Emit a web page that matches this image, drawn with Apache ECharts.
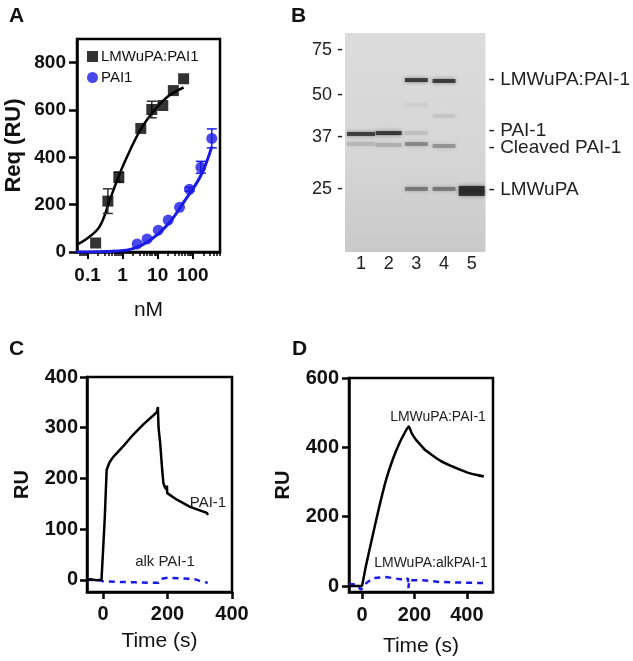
<!DOCTYPE html>
<html><head><meta charset="utf-8">
<script src="https://cdn.jsdelivr.net/npm/echarts@6/dist/echarts.min.js"></script>
<style>html,body{margin:0;padding:0;background:#fff}#c{width:633px;height:661px}</style>
</head><body><div id="c"></div>
<script>
// ---------- Panel A (binding isotherms) ----------
const complexConc = [0.17, 0.38, 0.78, 3.3, 6.8, 14, 28, 55];
const complexReq  = [38, 215, 316, 522, 602, 619, 682, 732];
const complexErr  = [0, 52, 22, 0, 35, 0, 0, 0];
const pai1Conc = [2.6, 5, 10.4, 20, 42, 81, 170, 350];
const pai1Req  = [34, 55, 92, 135, 189, 265, 358, 480];
const pai1Err  = [0, 0, 0, 0, 0, 8, 25, 40];
const complexFitConc = [0.048, 0.1, 0.222, 0.43, 0.836, 1.62, 3.15, 6.1, 11.9, 23, 55];
const complexFitReq  = [30, 58, 108, 219, 333, 429, 514, 577, 627, 665, 695];
const pai1FitConc = [0.048, 0.69, 1.98, 6.1, 18.9, 55, 169, 350];
const pai1FitReq  = [0, 4, 14, 50, 114, 210, 322, 445];
const aMajorTicks = [0.1, 1, 10, 100];
const aMinorTicks = [0.06,0.07,0.08,0.09,0.2,0.3,0.4,0.5,0.6,0.7,0.8,0.9,2,3,4,5,6,7,8,9,20,30,40,50,60,70,80,90,200,300,400,500,600];
const aYTicks = [0, 200, 400, 600, 800];

// ---------- Panel B (gel) ----------
const ladderKDa = [75, 50, 37, 25];
const ladderPos = [7.8, 28.3, 47.5, 71.2];          // migration, % of gel length
const lanes = [1, 2, 3, 4, 5];
const bandLane = [1, 1, 2, 2, 3, 3, 3, 3, 3, 4, 4, 4, 4, 5];
const bandPos  = [46.1, 50.7, 45.7, 51.1, 21.5, 32.9, 45.7, 50.7, 71.2, 21.9, 37.9, 51.6, 71.2, 72.1];
const bandIntensity = [0.9, 0.16, 0.95, 0.2, 0.92, 0.05, 0.12, 0.42, 0.5, 0.92, 0.08, 0.35, 0.5, 1.0];
const bandNames = ['LMWuPA:PAI-1', 'PAI-1', 'Cleaved PAI-1', 'LMWuPA'];
const bandNamePos = [21.5, 44.7, 52.5, 71.7];

// ---------- Panel C (sensorgram, PAI-1) ----------
const cPaiT  = [-50,-40,-20,-5,0,5,11,20,31,62,93,124,152,167,170,172,177,183,187,192,197,198,199,229,270,300,322,325];
const cPaiRU = [0,1,-1,0,2,120,217,232,242,263,286,306,322,331,341,300,270,220,191,182,178,186,171,158,144,137,132,128];
const cAlkT  = [-50,-10,0,50,100,150,172,180,200,240,280,300,325];
const cAlkRU = [0,-1,-3,-4,-5,-6,-6,2,4,3,2,-2,-6];

// ---------- Panel D (sensorgram, complex) ----------
const dCpxT  = [-50,-5,0,14,39,65,91,116,142,165,178,190,205,219,240,269,300,335,370,400,435,465];
const dCpxRU = [0,0,2,56,141,227,305,363,411,445,460,440,423,411,393,377,361,348,337,328,321,316];
const dAlkT  = [-50,-20,-4,10,40,92,169,175,177,180,231,296,380,462];
const dAlkRU = [6,4,-11,5,23,26,17,23,-6,17,17,12,10,9];

const F = '"Liberation Sans", Arial, Helvetica, sans-serif';
const BLUE = '#1a1ae6';
const zip = (a, b) => a.map((v, i) => [v, b[i]]);

function errBars(xs, ys, es, color, xi, yi) {
  return {
    type: 'custom', xAxisIndex: xi, yAxisIndex: yi, z: 3, silent: true,
    data: xs.map((x, i) => [x, ys[i], es[i]]).filter(d => d[2] > 0),
    renderItem: (p, api) => {
      const x = api.value(0), y = api.value(1), e = api.value(2);
      const t = api.coord([x, y + e]), b = api.coord([x, y - e]);
      const w = 5, st = {stroke: color, lineWidth: 1.5};
      return {type: 'group', children: [
        {type: 'line', shape: {x1: t[0], y1: t[1], x2: b[0], y2: b[1]}, style: st},
        {type: 'line', shape: {x1: t[0]-w, y1: t[1], x2: t[0]+w, y2: t[1]}, style: st},
        {type: 'line', shape: {x1: b[0]-w, y1: b[1], x2: b[0]+w, y2: b[1]}, style: st}
      ]};
    }
  };
}

const lineAx = {show: true, onZero: false, lineStyle: {color: '#000', width: 2.5}};
const boldLbl = (extra) => Object.assign({color: '#111', fontFamily: F, fontWeight: 'bold', fontSize: 19}, extra);
const laneWidth = [28, 26, 23, 23, 26];

const option = {
  animation: false,
  backgroundColor: '#fff',
  textStyle: {fontFamily: F},
  grid: [
    {left: 77, top: 39, width: 143, height: 213, show: true, borderColor: '#000', borderWidth: 2.5, backgroundColor: 'transparent'},
    {left: 345, top: 33, width: 143, height: 219, show: true, borderWidth: 0,
     backgroundColor: {type: 'linear', x: 0, y: 0, x2: 0, y2: 1, colorStops: [
       {offset: 0, color: '#dcdcdc'}, {offset: 0.6, color: '#d5d5d5'}, {offset: 1, color: '#c9c9c9'}]}},
    {left: 87, top: 377, width: 145, height: 215, show: true, borderColor: '#000', borderWidth: 2.5, backgroundColor: 'transparent'},
    {left: 349, top: 378, width: 144, height: 214, show: true, borderColor: '#000', borderWidth: 2.5, backgroundColor: 'transparent'}
  ],
  legend: {
    left: 82, top: 44, orient: 'vertical', itemGap: 6, itemWidth: 11, itemHeight: 11,
    data: [{name: 'LMWuPA:PAI1', icon: 'rect'}, {name: 'PAI1', icon: 'circle'}],
    textStyle: {fontFamily: F, fontSize: 15, color: '#111', padding: [0, 0, 0, -2]}
  },
  xAxis: [
    {gridIndex: 0, type: 'log', position: 'bottom', min: 0.05, max: 600, axisLine: lineAx,
     axisTick: {show: true, length: 7, lineStyle: {color: '#000', width: 2}, customValues: aMajorTicks},
     axisLabel: boldLbl({margin: 14, customValues: aMajorTicks, formatter: v => String(v)}),
     splitLine: {show: false}, minorTick: {show: false},
     name: 'nM', nameLocation: 'middle', nameGap: 48, nameTextStyle: {fontFamily: F, fontSize: 21, color: '#111'}},
    {gridIndex: 0, type: 'log', position: 'bottom', min: 0.05, max: 600, axisLine: {show: false, onZero: false},
     axisTick: {show: true, length: 4, lineStyle: {color: '#000', width: 1.5}, customValues: aMinorTicks},
     axisLabel: {show: false}, splitLine: {show: false}},
    {gridIndex: 1, type: 'value', min: 0.42, max: 5.5, axisLine: {show: false, onZero: false}, axisTick: {show: false},
     splitLine: {show: false},
     axisLabel: {customValues: lanes, formatter: v => String(v), margin: 3, fontFamily: F, fontSize: 18, color: '#222'}},
    {gridIndex: 2, type: 'value', min: -50, max: 400, axisLine: lineAx,
     axisTick: {show: true, length: 7, lineStyle: {color: '#000', width: 2.5}, customValues: [0, 200, 400]},
     axisLabel: boldLbl({fontSize: 20, margin: 12, customValues: [0, 200, 400]}), splitLine: {show: false},
     name: 'Time (s)', nameLocation: 'middle', nameGap: 39, nameTextStyle: {fontFamily: F, fontSize: 21, color: '#111'}},
    {gridIndex: 3, type: 'value', min: -50, max: 500, axisLine: lineAx,
     axisTick: {show: true, length: 7, lineStyle: {color: '#000', width: 2.5}, customValues: [0, 200, 400]},
     axisLabel: boldLbl({fontSize: 20, margin: 13, customValues: [0, 200, 400]}), splitLine: {show: false},
     name: 'Time (s)', nameLocation: 'middle', nameGap: 44, nameTextStyle: {fontFamily: F, fontSize: 21, color: '#111'}}
  ],
  yAxis: [
    {gridIndex: 0, type: 'value', min: 0, max: 900, axisLine: lineAx,
     axisTick: {show: true, length: 8, lineStyle: {color: '#000', width: 2.5}, customValues: aYTicks},
     axisLabel: boldLbl({margin: 11, customValues: aYTicks}), splitLine: {show: false},
     name: 'Req (RU)', nameLocation: 'middle', nameGap: 52, nameTextStyle: {fontFamily: F, fontSize: 22, fontWeight: 'bold', color: '#111'}},
    {gridIndex: 1, type: 'value', inverse: true, min: 0, max: 100, axisLine: {show: false, onZero: false}, axisTick: {show: false},
     splitLine: {show: false},
     axisLabel: {customValues: ladderPos, margin: 2, fontFamily: F, fontSize: 18, color: '#222',
       formatter: v => { const i = ladderPos.findIndex(p => Math.abs(p - v) < 0.01); return i >= 0 ? ladderKDa[i] + ' -' : ''; }}},
    {gridIndex: 1, type: 'value', inverse: true, position: 'right', min: 0, max: 100, axisLine: {show: false, onZero: false}, axisTick: {show: false},
     splitLine: {show: false},
     axisLabel: {customValues: bandNamePos, margin: 3, fontFamily: F, fontSize: 19, color: '#222',
       formatter: v => { const i = bandNamePos.findIndex(p => Math.abs(p - v) < 0.01); return i >= 0 ? '- ' + bandNames[i] : ''; }}},
    {gridIndex: 2, type: 'value', min: -24, max: 400, axisLine: lineAx,
     axisTick: {show: true, length: 7, lineStyle: {color: '#000', width: 2.5}, customValues: [0, 100, 200, 300, 400]},
     axisLabel: boldLbl({fontSize: 20, margin: 9, customValues: [0, 100, 200, 300, 400]}), splitLine: {show: false},
     name: 'RU', nameLocation: 'middle', nameGap: 55, nameTextStyle: {fontFamily: F, fontSize: 20, fontWeight: 'bold', color: '#111'}},
    {gridIndex: 3, type: 'value', min: -17, max: 600, axisLine: lineAx,
     axisTick: {show: true, length: 7, lineStyle: {color: '#000', width: 2.5}, customValues: [0, 200, 400, 600]},
     axisLabel: boldLbl({fontSize: 20, margin: 10, customValues: [0, 200, 400, 600]}), splitLine: {show: false},
     name: 'RU', nameLocation: 'middle', nameGap: 56, nameTextStyle: {fontFamily: F, fontSize: 20, fontWeight: 'bold', color: '#111'}}
  ],
  series: [
    // A: fits
    {type: 'line', xAxisIndex: 0, yAxisIndex: 0, data: zip(complexFitConc, complexFitReq), smooth: 0.4, showSymbol: false,
     lineStyle: {color: '#000', width: 2.5}, z: 2, silent: true},
    {type: 'line', xAxisIndex: 0, yAxisIndex: 0, data: zip(pai1FitConc, pai1FitReq), smooth: 0.4, showSymbol: false,
     lineStyle: {color: BLUE, width: 3}, z: 2, silent: true},
    errBars(complexConc, complexReq, complexErr, '#333', 0, 0),
    errBars(pai1Conc, pai1Req, pai1Err, BLUE, 0, 0),
    {name: 'LMWuPA:PAI1', type: 'scatter', xAxisIndex: 0, yAxisIndex: 0, data: zip(complexConc, complexReq),
     symbol: 'rect', symbolSize: 11, itemStyle: {color: '#000'}, z: 4},
    {name: 'PAI1', type: 'scatter', xAxisIndex: 0, yAxisIndex: 0, data: zip(pai1Conc, pai1Req),
     symbol: 'circle', symbolSize: 11, itemStyle: {color: BLUE}, z: 4},
    // B: gel bands
    {type: 'scatter', xAxisIndex: 2, yAxisIndex: 1, silent: true,
     data: bandLane.map((l, i) => [l, bandPos[i], bandIntensity[i]]),
     symbol: 'rect',
     symbolSize: v => [laneWidth[v[0] - 1], v[2] >= 1 ? 10 : 4],
     itemStyle: {
       color: p => 'rgba(20,20,20,' + p.value[2] + ')',
       shadowBlur: 4, shadowColor: 'rgba(30,30,30,0.6)'
     }},
    // C
    {type: 'line', xAxisIndex: 3, yAxisIndex: 3, data: zip(cPaiT, cPaiRU), showSymbol: false,
     lineStyle: {color: '#000', width: 2.5}, z: 3, silent: true},
    {type: 'line', xAxisIndex: 3, yAxisIndex: 3, data: zip(cAlkT, cAlkRU), showSymbol: false,
     lineStyle: {color: BLUE, width: 2.5, type: [6, 5]}, z: 2, silent: true},
    // D
    {type: 'line', xAxisIndex: 4, yAxisIndex: 4, data: zip(dCpxT, dCpxRU), showSymbol: false, smooth: 0.2,
     lineStyle: {color: '#000', width: 2.5}, z: 3, silent: true},
    {type: 'line', xAxisIndex: 4, yAxisIndex: 4, data: zip(dAlkT, dAlkRU), showSymbol: false,
     lineStyle: {color: BLUE, width: 2.5, type: [6, 5]}, z: 2, silent: true}
  ],
  graphic: [
    {type: 'text', left: 9, top: 6, style: {text: 'A', font: 'bold 21px ' + F, fill: '#111'}},
    {type: 'text', left: 291, top: 6, style: {text: 'B', font: 'bold 21px ' + F, fill: '#111'}},
    {type: 'text', left: 9, top: 339, style: {text: 'C', font: 'bold 21px ' + F, fill: '#111'}},
    {type: 'text', left: 292, top: 339, style: {text: 'D', font: 'bold 21px ' + F, fill: '#111'}},
    {type: 'text', x: 208, y: 503, style: {text: 'PAI-1', font: '15px ' + F, fill: '#222', align: 'center', verticalAlign: 'middle'}},
    {type: 'text', x: 165, y: 562, style: {text: 'alk PAI-1', font: '15px ' + F, fill: '#222', align: 'center', verticalAlign: 'middle'}},
    {type: 'text', x: 438, y: 417, style: {text: 'LMWuPA:PAI-1', font: '14px ' + F, fill: '#222', align: 'center', verticalAlign: 'middle'}},
    {type: 'text', x: 431, y: 563, style: {text: 'LMWuPA:alkPAI-1', font: '14px ' + F, fill: '#222', align: 'center', verticalAlign: 'middle'}}
  ]
};
const chart = echarts.init(document.getElementById('c'), null, {renderer: 'canvas'});
chart.setOption(option);
</script>
</body></html>
